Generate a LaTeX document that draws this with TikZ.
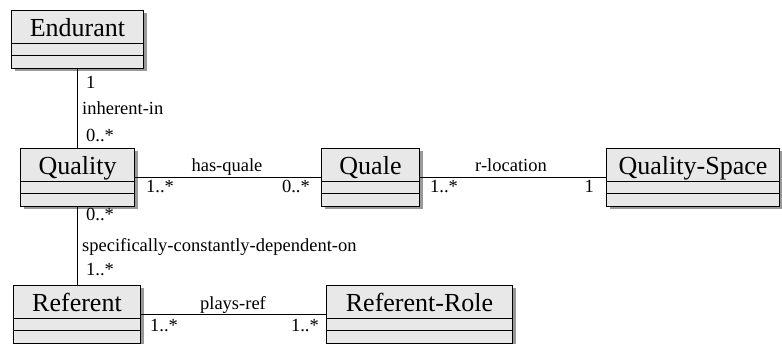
\documentclass[tikz,border=0pt]{standalone}
\usepackage{fontspec}
\setmainfont{Liberation Serif}
\usetikzlibrary{shadows,calc}
\definecolor{boxfill}{HTML}{E8E8E8}
\tikzset{
  umlbox/.style={draw=black, line width=1pt, fill=boxfill, anchor=north west, inner sep=0pt,
    minimum height=58pt,
    drop shadow={shadow xshift=3pt, shadow yshift=-3pt, fill=black!40, opacity=1}},
  title/.style={font=\fontsize{26}{28}\selectfont, anchor=base, inner sep=0pt},
  lbl/.style={font=\fontsize{18.5}{20}\selectfont, inner sep=0pt},
  conn/.style={line width=1pt},
  sep/.style={line width=1pt}
}
\newcommand{\umlcls}[5]{%
  \node[umlbox, minimum width=#4pt] (#1) at (#2,#3) {};
  \node[title] (#1-t) at ($(#1.north)+(0,27)$) {#5};
  \draw[sep] ($(#1.north west)+(0,34)$) -- ($(#1.north east)+(0,34)$);
  \draw[sep] ($(#1.north west)+(0,46)$) -- ($(#1.north east)+(0,46)$);
}
\begin{document}
\begin{tikzpicture}[x=1pt,y=-1pt]
\useasboundingbox (0,0) rectangle (782,344);
\umlcls{end}{11}{10}{132}{Endurant}
\umlcls{qual}{20}{148}{114}{Quality}
\umlcls{quale}{321}{148}{98}{Quale}
\umlcls{qs}{606}{148}{173}{Quality-Space}
\umlcls{ref}{13}{285}{127}{Referent}
\umlcls{rr}{326}{285}{186}{Referent-Role}

\draw[conn] (end.south) -- (qual.north);
\draw[conn] (qual.south) -- (qual.south |- ref.north);
\draw[conn] (qual.east) -- (quale.west);
\draw[conn] (quale.east) -- (qs.west);
\draw[conn] (ref.east) -- (rr.west);

% labels on vertical connectors
\node[lbl, anchor=base west] (l1) at (86,89) {1};
\node[lbl, anchor=base west] (l2) at (82,115) {inherent-in};
\node[lbl, anchor=base west] (l3) at (86,142) {0..*};
\node[lbl, anchor=base west] (l4) at (86,221) {0..*};
\node[lbl, anchor=base west] (l5) at (82,252) {specifically-constantly-dependent-on};
\node[lbl, anchor=base west] (l6) at (86,276) {1..*};

% labels on horizontal connectors
\node[lbl, anchor=base] (l7) at (227,172) {has-quale};
\node[lbl, anchor=base west] (l8) at (146,193) {1..*};
\node[lbl, anchor=base east] (l9) at (310,193) {0..*};
\node[lbl, anchor=base] (l10) at (511,172) {r-location};
\node[lbl, anchor=base west] (l11) at (430,193) {1..*};
\node[lbl, anchor=base east] (l12) at (594,193) {1};
\node[lbl, anchor=base] (l13) at (233,310) {plays-ref};
\node[lbl, anchor=base west] (l14) at (150,332) {1..*};
\node[lbl, anchor=base east] (l15) at (319,332) {1..*};
\end{tikzpicture}
\end{document}
